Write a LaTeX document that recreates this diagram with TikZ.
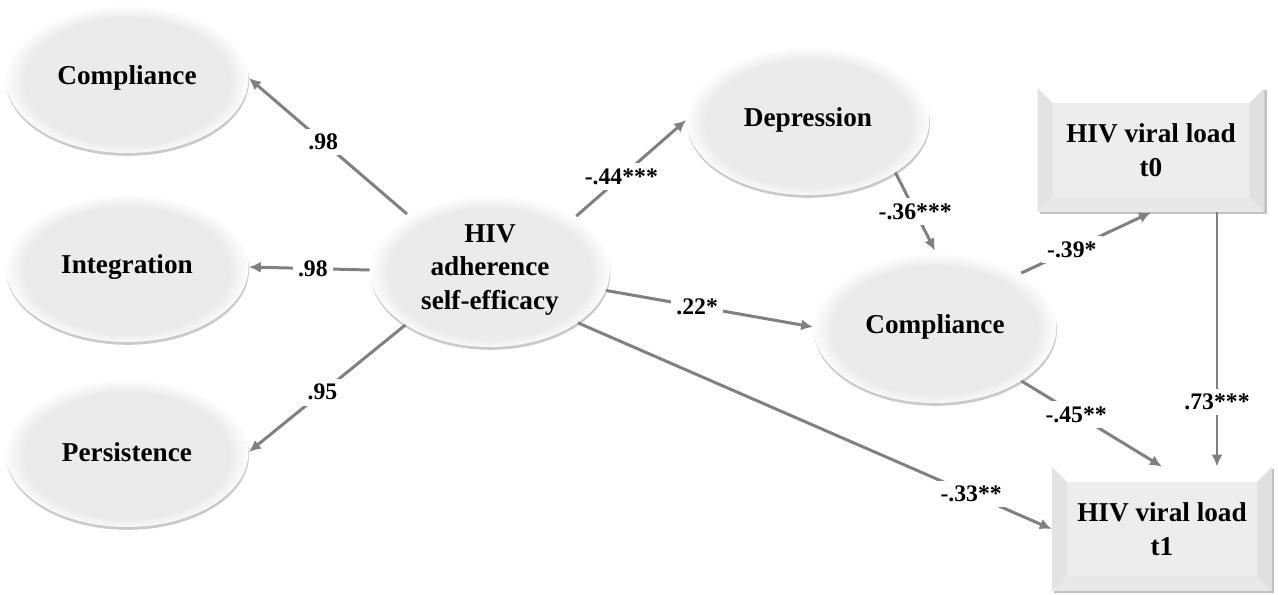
\documentclass[tikz,border=0pt]{standalone}
\usepackage{fontspec}
\setmainfont{Liberation Serif}
\usetikzlibrary{arrows.meta, shadows, shapes.geometric}

\pgfdeclareradialshading{glow}{\pgfpoint{0bp}{-2bp}}{%
  color(0bp)=(black!8); color(21bp)=(black!8); color(25.5bp)=(white); color(50bp)=(white)}

\tikzset{
  latent/.style = {ellipse, shading = glow, inner sep = 0pt,
                   minimum width = 4.86cm, minimum height = 3cm, align = center,
                   font = \fontsize{15.5}{19}\selectfont\bfseries,
                   drop shadow = {shadow xshift = 0.3pt, shadow yshift = -1.6pt,
                                  opacity = 0.35, fill = black!60}},
  bevelbox/.style = {rectangle, fill = black!7, inner sep = 0pt, align = center,
                     font = \fontsize{15.5}{19.5}\selectfont\bfseries,
                     drop shadow = {shadow xshift = 1.2pt, shadow yshift = -1.2pt,
                                    opacity = 0.4, fill = black!60},
                     path picture = {
                       \fill[white] (path picture bounding box.north west) -- (path picture bounding box.north east)
                         -- ([xshift = -0.3cm, yshift = -0.3cm]path picture bounding box.north east)
                         -- ([xshift = 0.3cm, yshift = -0.3cm]path picture bounding box.north west) -- cycle;
                       \fill[black!11] (path picture bounding box.north west) -- (path picture bounding box.south west)
                         -- ([xshift = 0.3cm, yshift = 0.3cm]path picture bounding box.south west)
                         -- ([xshift = 0.3cm, yshift = -0.3cm]path picture bounding box.north west) -- cycle;
                       \fill[black!12] (path picture bounding box.north east) -- (path picture bounding box.south east)
                         -- ([xshift = -0.3cm, yshift = 0.3cm]path picture bounding box.south east)
                         -- ([xshift = -0.3cm, yshift = -0.3cm]path picture bounding box.north east) -- cycle;
                       \fill[black!9] (path picture bounding box.south west) -- (path picture bounding box.south east)
                         -- ([xshift = -0.3cm, yshift = 0.3cm]path picture bounding box.south east)
                         -- ([xshift = 0.3cm, yshift = 0.3cm]path picture bounding box.south west) -- cycle;
                     }},
  link/.style = {draw = black!50, line width = 1.7pt, -{Latex[length = 0.24cm, width = 0.22cm]}},
  coef/.style = {fill = white, inner sep = 3pt, font = \fontsize{13.5}{15}\selectfont\bfseries}
}

\begin{document}
\begin{tikzpicture}[x = 0.02cm, y = -0.02cm]
  \useasboundingbox (0,0) rectangle (1278,595);

  % measurement model
  \node[latent] (cmpA) at (127,78) {Compliance};
  \node[latent] (integ) at (127,267) {Integration};
  \node[latent] (persist) at (127,452) {Persistence};
  \node[latent, minimum width = 4.8cm, minimum height = 3.08cm] (hase) at (490,270) {HIV\\adherence\\self-efficacy};

  % structural part
  \node[latent] (depr) at (808,120) {Depression};
  \node[latent, minimum height = 3.04cm] (cmpB) at (935,327) {Compliance};
  \node[bevelbox, minimum width = 4.54cm, minimum height = 2.48cm] (vlzero) at (1151,150) {HIV viral load\\t0};
  \node[bevelbox, minimum width = 4.4cm, minimum height = 2.48cm] (vlone) at (1162,529) {HIV viral load\\t1};

  \draw[link] (hase.146) -- node[coef, pos = 0.53] {.98} (cmpA.east);
  \draw[link] (hase.west) -- node[coef, pos = 0.47] {.98} (integ.east);
  \draw[link] (hase.213) -- node[coef, pos = 0.53] {.95} (persist.east);
  \draw[link] (hase.32) -- node[coef, pos = 0.41] {-.44***} (depr.west);
  \draw[link] (hase.-10) -- node[coef, pos = 0.44] {.22*} (cmpB.west);
  \draw[link] (hase.-31) -- node[coef, pos = 0.83] {-.33**} (vlone.west);
  \draw[link] (depr.-31) -- node[coef, pos = 0.5] {-.36***} (cmpB.north);
  \draw[link] (cmpB.32) -- node[coef, pos = 0.39] {-.39*} (vlzero.south);
  \draw[link] (cmpB.-32) -- node[coef, pos = 0.39] {-.45**} (vlone.north);
  \draw[link] ([xshift = 1.32cm]vlzero.south) -- node[coef, pos = 0.745] {.73***} ([xshift = 1.32cm]vlzero.south |- vlone.north);
\end{tikzpicture}
\end{document}
